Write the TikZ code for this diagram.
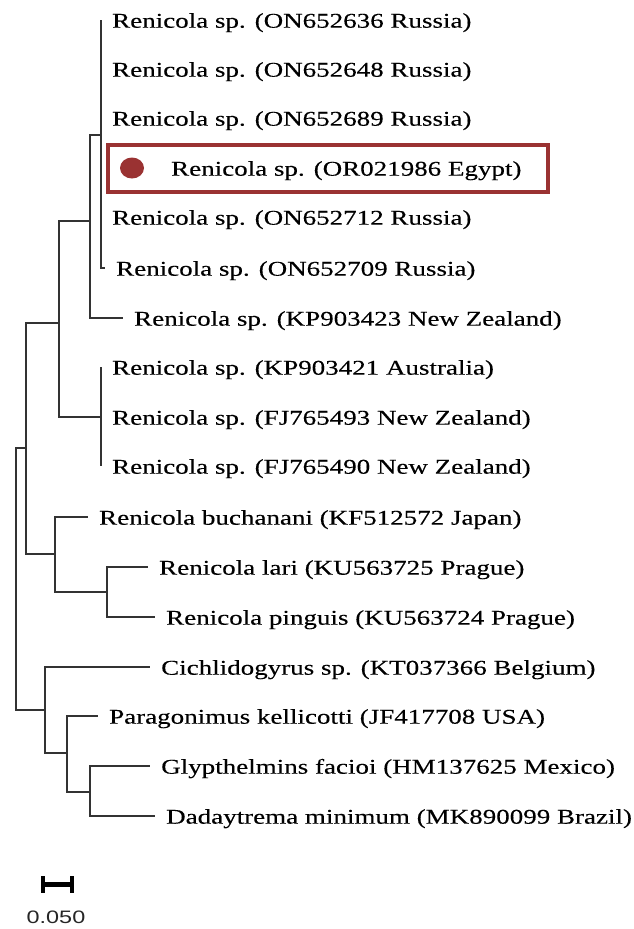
\documentclass[tikz,border=0pt]{standalone}
\usepackage{fontspec}
\setmainfont{Liberation Serif}[FakeStretch=1.286, FakeBold=0.25]
\newfontfamily\barfont{Liberation Sans}[FakeStretch=1.3]
\usetikzlibrary{positioning}

\definecolor{hlred}{HTML}{9A3232}
\definecolor{treegray}{HTML}{333333}

\tikzset{
  branch/.style={draw=treegray, line width=1.3pt},
  leaf/.style={anchor=west, inner xsep=11pt, inner ysep=0pt,
    text height=20pt, text depth=4.6pt, text=black,
    font=\fontsize{21}{25}\selectfont},
  hlbox/.style={draw=hlred, line width=3.2pt},
}

\begin{document}
\begin{tikzpicture}[x=1pt, y=-1pt]
  \useasboundingbox (0,0) rectangle (634,929);

  % internal nodes of the tree
  \coordinate (nR) at (16,579);
  \coordinate (nG) at (26,448);
  \coordinate (nD) at (59,323);
  \coordinate (nB) at (90,221);
  \coordinate (nA) at (101,135);
  \coordinate (nC) at (101,417);
  \coordinate (nF) at (55,554);
  \coordinate (nE) at (107,592);
  \coordinate (nJ) at (45,710);
  \coordinate (nI) at (67,753);
  \coordinate (nH) at (90,792);

  % leaves (placed at the branch tips)
  \foreach \nm/\tx/\ty/\lab in {
      l1/101/20/{Renicola sp. (ON652636 Russia)},
      l2/101/69/{Renicola sp. (ON652648 Russia)},
      l3/101/118/{Renicola sp. (ON652689 Russia)},
      l5/101/217/{Renicola sp. (ON652712 Russia)},
      l6/105/268/{Renicola sp. (ON652709 Russia)},
      l7/123/318/{Renicola sp. (KP903423 New Zealand)},
      l8/101/367/{Renicola sp. (KP903421 Australia)},
      l9/101/417/{Renicola sp. (FJ765493 New Zealand)},
      l10/101/466/{Renicola sp. (FJ765490 New Zealand)},
      l11/88/517/{Renicola buchanani (KF512572 Japan)},
      l12/148/567/{Renicola lari (KU563725 Prague)},
      l13/155/617/{Renicola pinguis (KU563724 Prague)},
      l14/150/667/{Cichlidogyrus sp. (KT037366 Belgium)},
      l15/98/716/{Paragonimus kellicotti (JF417708 USA)},
      l16/150/766/{Glypthelmins facioi (HM137625 Mexico)},
      l17/155/816/{Dadaytrema minimum (MK890099 Brazil)}}
    \node[leaf] (\nm) at (\tx,\ty) {\lab};

  % the Egyptian sequence, highlighted
  \coordinate (l4) at (101,168);
  \draw[hlbox] (108,145) rectangle (548,192);
  \fill[hlred] (132,168) ellipse [x radius=12, y radius=10.5];
  \node[leaf] (t4) at (160,168) {Renicola sp. (OR021986 Egypt)};

  % branches
  \foreach \p/\c in {nA/l1, nA/l2, nA/l3, nA/l4, nA/l5, nA/l6,
      nB/nA, nB/l7, nC/l8, nC/l9, nC/l10, nD/nB, nD/nC,
      nF/l11, nE/l12, nE/l13, nF/nE, nG/nD, nG/nF,
      nH/l16, nH/l17, nI/l15, nI/nH, nJ/l14, nJ/nI, nR/nG, nR/nJ}
    \draw[branch] (\p) |- (\c);

  % scale bar
  \coordinate (sb1) at (43,884);
  \coordinate (sb2) at (72,884);
  \draw[line width=5pt] (sb1) -- (sb2);
  \draw[line width=4pt] ([yshift=-8.5]sb1) -- ([yshift=8.5]sb1)
                        ([yshift=-8.5]sb2) -- ([yshift=8.5]sb2);
  \node[font=\barfont\fontsize{18}{20}\selectfont, text=black!85, inner sep=0pt]
    (sbl) at (56,917) {0.050};
\end{tikzpicture}
\end{document}
